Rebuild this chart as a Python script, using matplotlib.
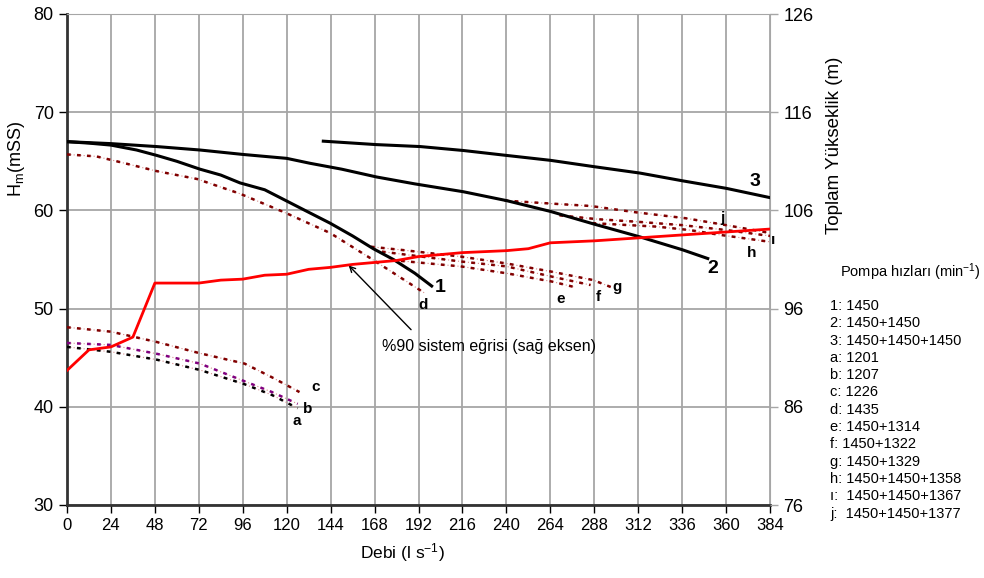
import matplotlib
matplotlib.use("Agg")
import matplotlib.pyplot as plt

plt.rcParams["font.family"] = ["Liberation Sans", "DejaVu Sans"]
plt.rcParams["mathtext.fontset"] = "custom"
plt.rcParams["mathtext.rm"] = "Liberation Sans"
plt.rcParams["mathtext.it"] = "Liberation Sans:italic"

# pump curves (left axis, mSS)
q1 = [0, 12, 24, 38, 49, 60, 72.6, 84, 94.5, 108, 116.4, 130, 143.7, 156, 167.3, 178.3, 190, 199.2]
h1 = [67.0, 66.85, 66.65, 66.15, 65.6, 65.0, 64.2, 63.6, 62.8, 62.1, 61.3, 60.0, 58.7, 57.4, 56.1, 55.0, 53.6, 52.3]
q2 = [0, 24, 49, 72.6, 96, 120, 132.7, 150, 169.2, 190, 216.5, 240, 264, 288, 313, 336, 350]
h2 = [67.0, 66.8, 66.5, 66.15, 65.7, 65.3, 64.8, 64.2, 63.4, 62.7, 61.9, 61.0, 59.9, 58.6, 57.3, 56.0, 55.1]
q3 = [140, 169, 193, 216.5, 240, 264, 288, 313, 336.6, 360, 384]
h3 = [67.05, 66.7, 66.5, 66.1, 65.6, 65.1, 64.45, 63.8, 63.0, 62.25, 61.3]

# reduced speed curves
qa = [0, 24, 49, 72.6, 97, 112, 126]
ha = [46.1, 45.6, 44.8, 43.75, 42.3, 41.2, 39.85]
qb = [0, 24, 49, 72.6, 97, 112, 126]
hb = [46.5, 46.3, 45.4, 44.4, 42.6, 41.5, 40.3]
qc = [0, 24, 49, 72.6, 97, 112, 127]
hc = [48.1, 47.65, 46.6, 45.45, 44.4, 43.0, 41.5]
qd = [0, 16, 25, 49, 71, 94.5, 120, 143.7, 167.3, 195.6]
hd = [65.7, 65.5, 65.1, 64.0, 63.2, 61.7, 59.7, 57.7, 54.95, 51.55]
qe = [177, 215, 240, 265, 277]
he = [54.95, 54.3, 53.6, 52.75, 52.2]
qf = [172, 215, 240, 265, 286]
hf = [55.8, 54.8, 54.3, 53.25, 52.4]
qg = [166, 184, 215, 240, 265, 287.5, 297]
hg = [56.3, 55.95, 55.3, 54.6, 53.75, 52.9, 52.2]
qh = [287, 322, 340, 357, 384]
hh = [58.7, 58.35, 58.0, 57.5, 56.8]
qi = [269, 290, 311, 336, 360, 384]
hi = [59.5, 59.1, 58.85, 58.5, 58.0, 57.4]
qj = [239, 264, 286, 311, 338, 360, 384]
hj = [61.0, 60.7, 60.45, 59.8, 59.2, 58.5, 57.7]

# %90 system curve (right axis, m)
qs = [0, 12, 24, 36, 48, 72, 84, 96, 108, 120, 132, 144, 156, 168, 180, 192, 204, 216,
      240, 252, 264, 288, 312, 336, 360, 384]
hs = [89.7, 91.8, 92.1, 93.1, 98.6, 98.6, 98.9, 99.0, 99.4, 99.5, 100.0, 100.2, 100.5, 100.7,
      100.9, 101.3, 101.5, 101.7, 101.9, 102.1, 102.7, 102.9, 103.2, 103.5, 103.8, 104.1]

x_ticks = list(range(0, 385, 24))
left_ticks = [30, 40, 50, 60, 70, 80]
right_ticks = [76, 86, 96, 106, 116, 126]

legend_lines = ["1: 1450", "2: 1450+1450", "3: 1450+1450+1450", "a: 1201", "b: 1207",
                "c: 1226", "d: 1435", "e: 1450+1314", "f: 1450+1322", "g: 1450+1329",
                "h: 1450+1450+1358", "ı:  1450+1450+1367", "j:  1450+1450+1377"]

fig = plt.figure(figsize=(9.84, 5.78), dpi=100)
ax = fig.add_axes([67 / 984, 73 / 578, 703 / 984, 491 / 578])

grid_c = "#a6a6a6"
for x in x_ticks:
    ax.axvline(x, color=grid_c, lw=1.3, zorder=0)
for y in left_ticks:
    ax.axhline(y, color=grid_c, lw=1.3, zorder=0)


def dotted(q, h, color):
    ax.plot(q, h, color="#d89090", lw=0.8, ls=(0, (1, 2)), zorder=2)
    ax.plot(q, h, color=color, lw=1.8, ls=(0, (1.5, 2.5)), zorder=3)


maroon = "#800000"
dotted(qa, ha, "black")
dotted(qb, hb, "#800080")
for q, h in [(qc, hc), (qd, hd), (qe, he), (qf, hf), (qg, hg), (qh, hh), (qi, hi), (qj, hj)]:
    dotted(q, h, maroon)

for q, h in [(q1, h1), (q2, h2), (q3, h3)]:
    ax.plot(q, h, color="black", lw=2.2, zorder=4)

for txt, x, y in [("1", 203.7, 52.1), ("2", 352.9, 54.1), ("3", 375.8, 62.9)]:
    ax.text(x, y, txt, fontsize=14, fontweight="bold", ha="center", va="center", zorder=6)

for txt, x, y in [("a", 125.6, 38.55), ("b", 131.6, 39.8), ("c", 136.0, 42.0), ("d", 194.5, 50.4),
                  ("e", 269.8, 51.0), ("f", 290.0, 51.2), ("g", 300.4, 52.2), ("h", 374.2, 55.7),
                  ("ı", 385.6, 57.0), ("j", 357.8, 59.2)]:
    ax.text(x, y, txt, fontsize=11, fontweight="bold", ha="center", va="center", zorder=6,
            clip_on=False)

ax.annotate("", xy=(152.8, 54.6), xytext=(189, 47.65),
            arrowprops=dict(arrowstyle="->", color="black", lw=1), zorder=6)
ax.text(171.9, 46.1, "%90 sistem eğrisi (sağ eksen)", fontsize=11.5, va="center", ha="left")

ax.set_xlim(0, 384)
ax.set_ylim(30, 80)
ax.set_xticks(x_ticks)
ax.set_yticks(left_ticks)
ax.tick_params(length=6, width=1, direction="out")
ax.tick_params(axis="x", labelsize=12)
ax.tick_params(axis="y", labelsize=13)
ax.set_xlabel("Debi (l s$^{-1}$)", fontsize=12.5)
ax.xaxis.set_label_coords(0.477, -0.073)
ax.set_ylabel("H$_\\mathrm{m}$(mSS)", fontsize=13)
ax.yaxis.set_label_coords(-0.057, 0.705)
ax.spines["left"].set_color("#333333")
ax.spines["left"].set_linewidth(2)
ax.spines["bottom"].set_color("#333333")
ax.spines["bottom"].set_linewidth(2)
ax.spines["top"].set_color(grid_c)
ax.spines["right"].set_color(grid_c)

ax2 = ax.twinx()
ax2.plot(qs, hs, color="red", lw=2, zorder=5)
ax2.set_ylim(76, 126)
ax2.set_yticks(right_ticks)
ax2.tick_params(labelsize=13, length=6, width=1, color=grid_c)
ax2.set_ylabel("Toplam Yükseklik (m)", fontsize=13.5, rotation=90)
ax2.yaxis.set_label_coords(1.08, 0.733)
for s in ax2.spines.values():
    s.set_visible(False)

fig.text(840 / 984, 1 - 272 / 578, "Pompa hızları (min$^{-1}$)", fontsize=10.5, va="center")
for i, line in enumerate(legend_lines):
    fig.text(830 / 984, 1 - (306 + 17.3 * i) / 578, line, fontsize=10.5, va="center")

fig.savefig("out.png", dpi=100)
